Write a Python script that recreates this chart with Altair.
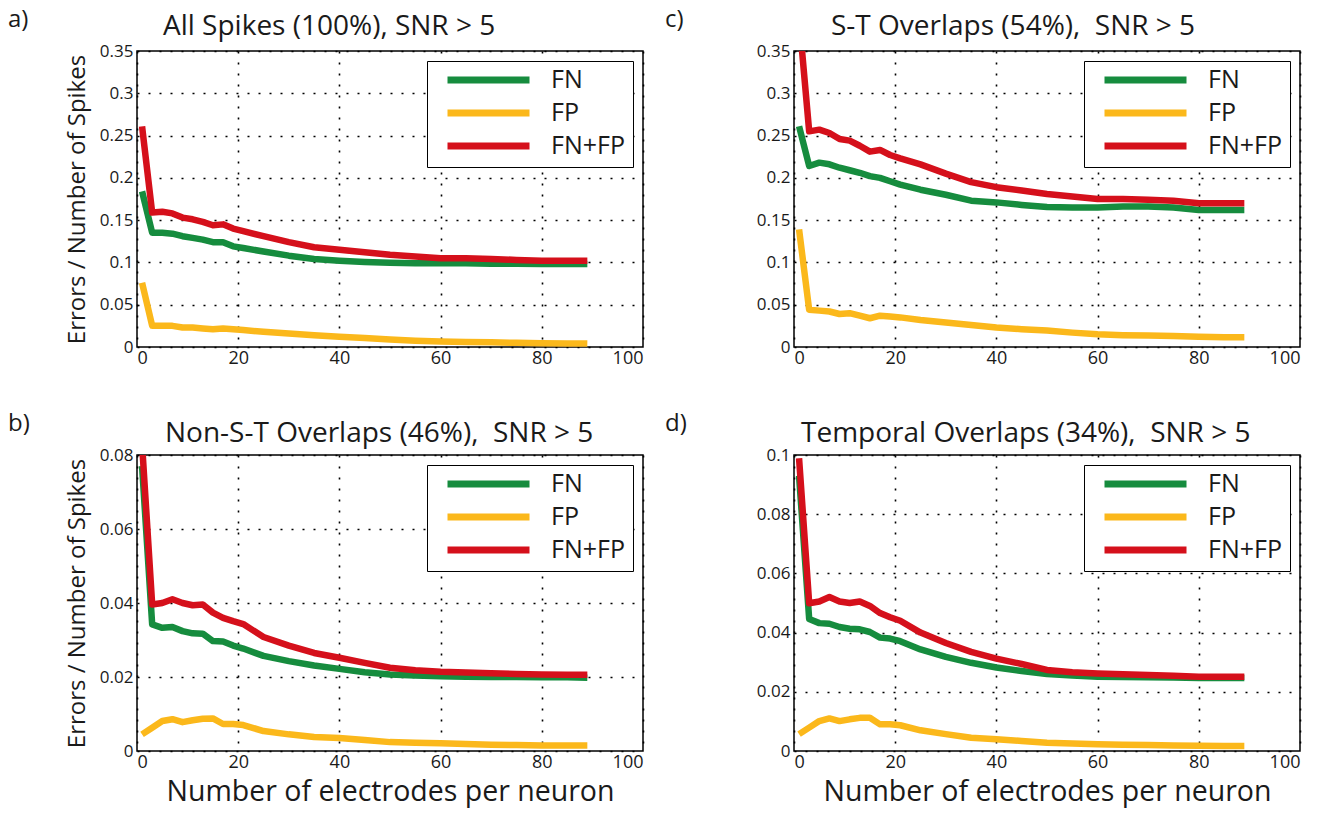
import altair as alt
import pandas as pd

# ---------------- data ----------------
x_vals = [1, 3, 5, 7, 9, 11, 13, 15, 17, 19, 21, 25, 30, 35, 40, 45, 50, 55, 60, 65, 70, 75, 80, 85, 89]
series_names = ["FN", "FP", "FN+FP"]
series_colors = ["#168c3e", "#fbb81b", "#d5101b"]

# a) All Spikes
a_fn = [0.184, 0.135, 0.135, 0.134, 0.131, 0.129, 0.127, 0.124, 0.124, 0.119, 0.117, 0.113, 0.108, 0.104,
        0.102, 0.1005, 0.0995, 0.099, 0.099, 0.099, 0.0985, 0.0985, 0.098, 0.098, 0.098]
a_fp = [0.076, 0.025, 0.025, 0.025, 0.023, 0.023, 0.022, 0.021, 0.022, 0.021, 0.020, 0.018, 0.016, 0.014,
        0.012, 0.0105, 0.009, 0.0075, 0.0065, 0.006, 0.0055, 0.005, 0.0045, 0.0042, 0.004]
a_tot = [0.261, 0.159, 0.160, 0.158, 0.153, 0.151, 0.148, 0.144, 0.145, 0.140, 0.137, 0.131, 0.124, 0.118,
         0.115, 0.112, 0.109, 0.107, 0.105, 0.105, 0.104, 0.103, 0.102, 0.102, 0.102]

# c) S-T Overlaps
c_fn = [0.261, 0.214, 0.218, 0.216, 0.212, 0.209, 0.206, 0.202, 0.200, 0.196, 0.192, 0.186, 0.180, 0.173,
        0.171, 0.168, 0.1655, 0.165, 0.165, 0.166, 0.166, 0.165, 0.162, 0.162, 0.162]
c_fp = [0.139, 0.044, 0.043, 0.042, 0.039, 0.040, 0.037, 0.034, 0.037, 0.036, 0.035, 0.032, 0.029, 0.026,
        0.023, 0.021, 0.0195, 0.017, 0.015, 0.014, 0.0135, 0.013, 0.012, 0.0115, 0.0115]
c_tot = [0.39, 0.255, 0.257, 0.253, 0.246, 0.244, 0.238, 0.231, 0.233, 0.227, 0.223, 0.216, 0.205, 0.195,
         0.189, 0.185, 0.181, 0.178, 0.175, 0.175, 0.174, 0.173, 0.170, 0.170, 0.170]

# b) Non-S-T Overlaps
b_fn = [0.077, 0.0342, 0.0333, 0.0335, 0.0324, 0.0318, 0.0317, 0.0297, 0.0296, 0.0285, 0.0277, 0.0257, 0.0243,
        0.0231, 0.0222, 0.0213, 0.0207, 0.0204, 0.0202, 0.0201, 0.0200, 0.0200, 0.0199, 0.0199, 0.0198]
b_fp = [0.0045, 0.0063, 0.0081, 0.0086, 0.0078, 0.0083, 0.0087, 0.0088, 0.0073, 0.0073, 0.0070, 0.0054, 0.0045,
        0.0038, 0.0035, 0.0030, 0.0024, 0.0022, 0.0021, 0.0019, 0.0017, 0.0016, 0.0015, 0.0015, 0.0015]
b_tot = [0.083, 0.0396, 0.0400, 0.0410, 0.0400, 0.0394, 0.0396, 0.0374, 0.0360, 0.0351, 0.0343, 0.0308, 0.0285,
         0.0265, 0.0252, 0.0238, 0.0225, 0.0218, 0.0214, 0.0212, 0.0210, 0.0208, 0.0207, 0.0206, 0.0206]

# d) Temporal Overlaps
d_fn = [0.093, 0.0446, 0.0432, 0.0430, 0.0419, 0.0413, 0.0411, 0.0402, 0.0383, 0.0380, 0.0371, 0.0343, 0.0318,
        0.0298, 0.0282, 0.0270, 0.0260, 0.0255, 0.0251, 0.0250, 0.0249, 0.0248, 0.0247, 0.0247, 0.0247]
d_fp = [0.0057, 0.0079, 0.0101, 0.0110, 0.0101, 0.0107, 0.0112, 0.0112, 0.0090, 0.0090, 0.0087, 0.0070, 0.0057,
        0.0045, 0.0040, 0.0034, 0.0028, 0.0025, 0.0023, 0.0021, 0.0020, 0.0019, 0.0018, 0.0017, 0.0017]
d_tot = [0.0989, 0.0499, 0.0505, 0.0520, 0.0505, 0.0500, 0.0505, 0.0490, 0.0466, 0.0452, 0.0440, 0.0400, 0.0365,
         0.0335, 0.0312, 0.0294, 0.0274, 0.0266, 0.0262, 0.0259, 0.0257, 0.0254, 0.0251, 0.0251, 0.0251]

x_ticks = [0, 20, 40, 60, 80, 100]
y_ticks_a = [0, 0.05, 0.1, 0.15, 0.2, 0.25, 0.3, 0.35]
y_ticks_b = [0, 0.02, 0.04, 0.06, 0.08]
y_ticks_d = [0, 0.02, 0.04, 0.06, 0.08, 0.1]

titles = ["All Spikes (100%), SNR > 5",
          "S-T Overlaps (54%),\u00a0 SNR > 5",
          "Non-S-T Overlaps (46%),\u00a0 SNR > 5",
          "Temporal Overlaps (34%),\u00a0 SNR > 5"]
letters = ["a)", "c)", "b)", "d)"]

FONT = "Open Sans"
TXT = "#1a1a1a"
W, H = 506, 296


def panel(fn, fp, tot, ymax, yticks, title, title_dx, title_y, letter, show_ytitle, show_xtitle):
    rows = []
    for name, vals in zip(series_names, [fn, fp, tot]):
        for xv, yv in zip(x_vals, vals):
            rows.append({"x": xv, "v": yv, "s": name})
    df = pd.DataFrame(rows)

    x_axis = alt.Axis(values=x_ticks, labelFontSize=18, labelColor=TXT, labelPadding=2,
                      ticks=False, domain=False, grid=True, gridColor="#000000",
                      gridDash=[2, 9], gridWidth=1.6, labelFont=FONT,
                      title="Number of electrodes per neuron" if show_xtitle else None,
                      titleFontSize=28.5, titleFontWeight="normal", titleColor=TXT, titleFont=FONT,
                      titlePadding=6)
    y_axis = alt.Axis(values=yticks, format="~g", labelFontSize=17, labelColor=TXT, labelPadding=4,
                      ticks=False, domain=False, grid=True, gridColor="#000000",
                      gridDash=[2, 9], gridWidth=1.6, labelFont=FONT,
                      title="Errors / Number of Spikes" if show_ytitle else None,
                      titleFontSize=24, titleFontWeight="normal", titleColor=TXT, titleFont=FONT,
                      titlePadding=10)

    lines = alt.Chart(df).mark_line(strokeWidth=6.5, clip=True, strokeJoin="round").encode(
        x=alt.X("x:Q", scale=alt.Scale(domain=[0, 100], nice=False, zero=False), axis=x_axis),
        y=alt.Y("v:Q", scale=alt.Scale(domain=[0, ymax], nice=False), axis=y_axis),
        color=alt.Color("s:N", sort=series_names,
                        scale=alt.Scale(domain=series_names, range=series_colors),
                        legend=alt.Legend(title=None, orient="top-right", offset=10,
                                          symbolType="stroke", symbolSize=6724, symbolStrokeWidth=7,
                                          clipHeight=22, symbolOffset=9, labelOffset=18,
                                          labelFontSize=25, labelFont=FONT, labelColor=TXT,
                                          rowPadding=8, padding=8, strokeColor="#000000",
                                          fillColor="#ffffff", cornerRadius=0)),
    )

    lab = alt.Chart(pd.DataFrame({"t": [letter]})).mark_text(
        align="left", baseline="middle", fontSize=24, font=FONT, color=TXT
    ).encode(x=alt.value(-129), y=alt.value(-31), text="t:N")

    ttl = alt.Chart(pd.DataFrame({"t": [title]})).mark_text(
        align="left", baseline="alphabetic", fontSize=28, font=FONT, color=TXT
    ).encode(x=alt.value(title_dx), y=alt.value(title_y), text="t:N")

    return alt.layer(lines, lab, ttl).properties(width=W, height=H)


pa = panel(a_fn, a_fp, a_tot, 0.35, y_ticks_a, titles[0], 26, -16, letters[0], True, False)
pc = panel(c_fn, c_fp, c_tot, 0.35, y_ticks_a, titles[1], 37, -16, letters[1], False, False)
pb = panel(b_fn, b_fp, b_tot, 0.08, y_ticks_b, titles[2], 28, -13, letters[2], True, True)
pd_ = panel(d_fn, d_fp, d_tot, 0.1, y_ticks_d, titles[3], 7, -13, letters[3], False, True)

chart = alt.concat(pa, pc, pb, pd_, columns=2, spacing={"row": 108, "column": 151},
                   bounds="flush").resolve_scale(
    color="independent", y="independent", x="independent"
).resolve_legend(color="independent").properties(
    padding={"left": 7, "top": 7, "right": 5, "bottom": 5},
    background="white",
).configure_view(
    stroke="#000000", strokeWidth=1.5
)

chart.save("out.html", embed_options={"renderer": "svg", "actions": False})
